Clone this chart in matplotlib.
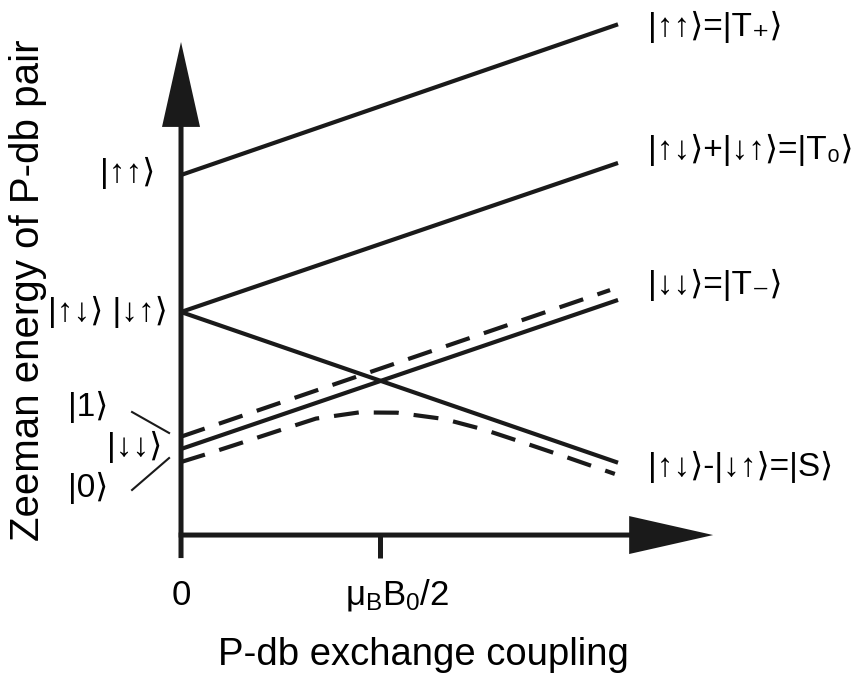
import matplotlib

matplotlib.use("Agg")
import matplotlib.pyplot as plt

# energy levels (x: coupling, 0.5 = muB*B0/2; y: energy)
x_line = [0.0, 1.098]
e_tplus = [1.0, 2.10]
e_t0 = [0.0, 1.088]
e_s = [0.0, -1.10]
e_tminus = [-1.0, 0.088]

x_state1 = [0.0, 1.078]
e_state1 = [-0.91, 0.16]

x_state0 = [0.0, 0.07, 0.138, 0.239, 0.339, 0.447, 0.543, 0.661, 0.761, 0.864, 0.967, 1.090]
e_state0 = [-1.095, -1.032, -0.968, -0.872, -0.778, -0.733, -0.735, -0.781, -0.858, -0.957, -1.058, -1.182]

tick_pos = [0.0, 0.5]
tick_labels = ["0", r"$\mu_B B_0/2$"]

right_labels = ["|↑↑⟩=|T₊⟩", "|↑↓⟩+|↓↑⟩=|T₀⟩", "|↓↓⟩=|T₋⟩", "|↑↓⟩-|↓↑⟩=|S⟩"]
right_levels = [2.08, 1.18, 0.197, -1.131]

plt.rcParams["font.family"] = ["Liberation Sans", "DejaVu Sans"]
plt.rcParams["mathtext.fontset"] = "custom"
plt.rcParams["mathtext.rm"] = "Liberation Sans"
plt.rcParams["mathtext.it"] = "Liberation Sans"

fig = plt.figure(figsize=(8.6, 6.75), dpi=100)
ax = fig.add_axes([0, 0, 1, 1])
ax.set_xlim(-0.4548, 1.706)
ax.set_ylim(-2.6496, 2.2774)
ax.axis("off")

ink = "#1a1a1a"
lw = 3.0
dash = (0, (6, 3.6))
for e in (e_tplus, e_t0, e_s, e_tminus):
    ax.plot(x_line, e, color=ink, lw=lw, solid_capstyle="butt")
ax.plot(x_state1, e_state1, color=ink, lw=lw, linestyle=dash)
ax.plot(x_state0, e_state0, color=ink, lw=lw, linestyle=dash)

# axes with arrow heads
y_axis0 = -1.628
ax.arrow(0, -1.796, 0, 1.971 + 1.796, width=0.0126, head_width=0.0955,
         head_length=0.62, length_includes_head=True, fc=ink, ec="none")
ax.arrow(-0.006, y_axis0, 1.337 + 0.006, 0, width=0.0365, head_width=0.277,
         head_length=0.211, length_includes_head=True, fc=ink, ec="none")
ax.plot([tick_pos[1], tick_pos[1]], [y_axis0, -1.796], color=ink, lw=3.6,
        solid_capstyle="butt")

for xp, lab in zip(tick_pos, tick_labels):
    dx = 0.043 if xp > 0 else 0.0
    ax.text(xp + dx, -2.066, lab, ha="center", va="center", fontsize=25)

ax.text(0.608, -2.504, "P-db exchange coupling", ha="center", va="center", fontsize=27.5)
ax.text(-0.385, 0.161, "Zeeman energy of P-db pair", rotation=90,
        ha="center", va="center", fontsize=29)

# state labels
fs = 24
for lev, lab in zip(right_levels, right_labels):
    ax.text(1.173, lev, lab, ha="left", va="center", fontsize=fs)

ax.text(-0.065, 1.015, "|↑↑⟩", ha="right", va="center", fontsize=fs)
ax.text(-0.033, 0.0, "|↑↓⟩ |↓↑⟩", ha="right", va="center", fontsize=fs)
ax.text(-0.048, -0.985, "|↓↓⟩", ha="right", va="center", fontsize=fs)
ax.text(-0.284, -0.693, "|1⟩", ha="left", va="center", fontsize=fs)
ax.text(-0.284, -1.285, "|0⟩", ha="left", va="center", fontsize=fs)

ax.plot([-0.123, -0.030], [-0.730, -0.883], color=ink, lw=1.5)
ax.plot([-0.123, -0.030], [-1.299, -1.066], color=ink, lw=1.5)

fig.savefig("out.png", dpi=100)
plt.close(fig)
